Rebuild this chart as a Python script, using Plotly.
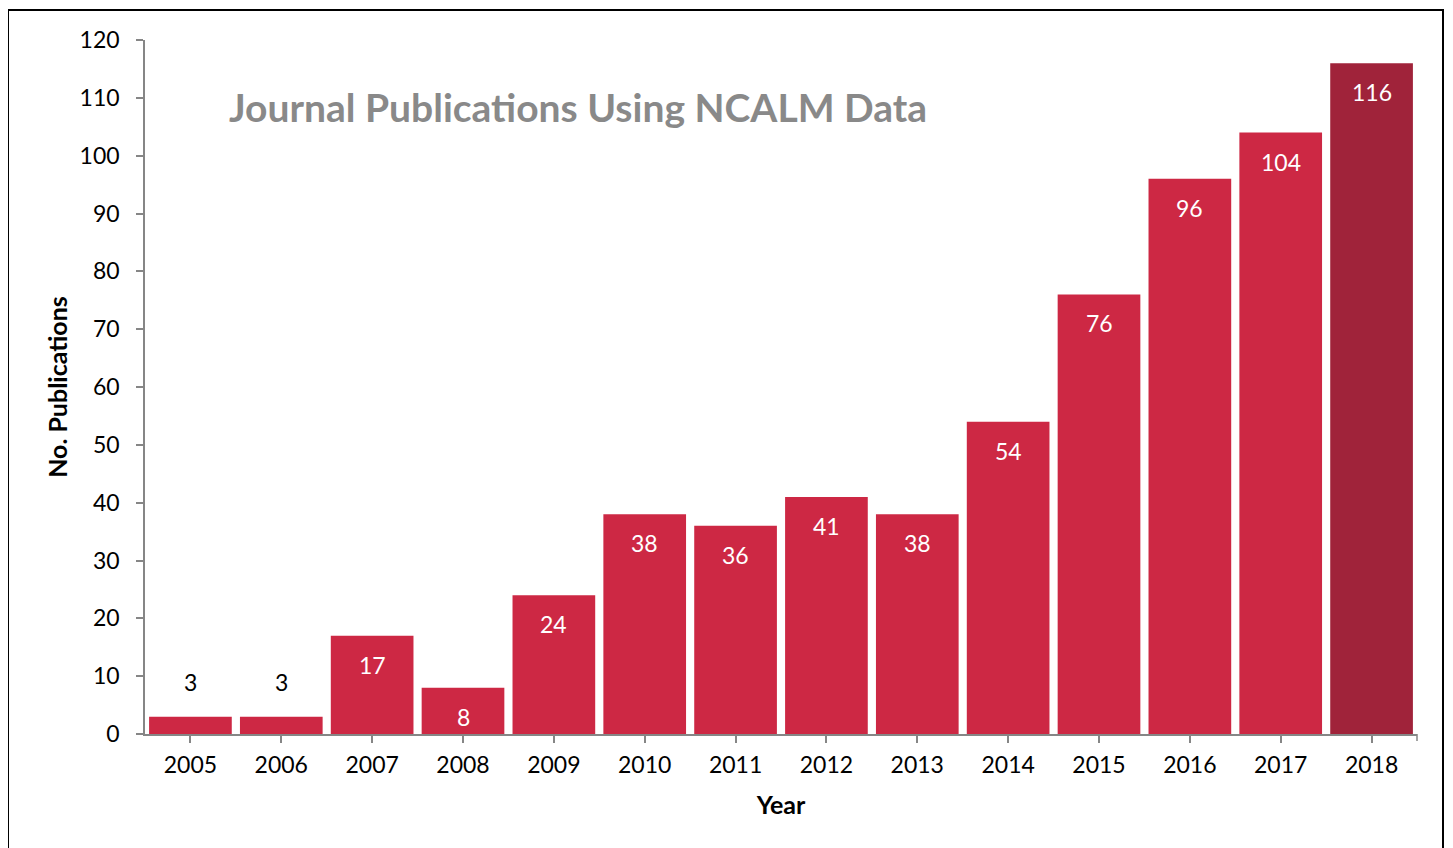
import plotly.graph_objects as go

years = ["2005", "2006", "2007", "2008", "2009", "2010", "2011", "2012", "2013",
         "2014", "2015", "2016", "2017", "2018"]
publications = [3, 3, 17, 8, 24, 38, 36, 41, 38, 54, 76, 96, 104, 116]
bar_colors = ["#CD2844"] * 13 + ["#A0233A"]
y_ticks = [0, 10, 20, 30, 40, 50, 60, 70, 80, 90, 100, 110, 120]

# page has an 8px body margin; figure sized to fit inside the window
OFF = 8
W, H = 1453 - OFF, 848 - OFF
ML, MR, MT, MB = 145 - OFF, 36, 40 - OFF, 114
FONT = "Lato"

pw = W - ML - MR
ph = H - MT - MB


def px_x(page_x):
    return (page_x - OFF - ML) / pw


def px_y(page_y):
    return (H - MB - (page_y - OFF)) / ph


fig = go.Figure()
fig.add_trace(go.Bar(
    x=years, y=publications,
    marker=dict(color=bar_colors, line=dict(width=0)),
    hoverinfo="x+y",
))

annotations = []
for i, (yr, v) in enumerate(zip(years, publications)):
    outside = v < 6
    annotations.append(dict(
        x=i, y=v, xref="x", yref="y", text=str(v), showarrow=False,
        yanchor="middle", xanchor="center",
        yshift=35 if outside else -29,
        font=dict(family=FONT, size=23, color="black" if outside else "white"),
    ))

annotations.append(dict(
    x=px_x(227), y=px_y(107),
    xref="paper", yref="paper", xanchor="left", yanchor="middle",
    text="<b>Journal Publications Using NCALM Data</b>", showarrow=False,
    font=dict(family=FONT, size=39, color="#898989"),
))

shapes = [
    dict(type="rect", xref="paper", yref="paper",
         x0=px_x(8), x1=px_x(1443),
         y0=px_y(900), y1=px_y(10),
         line=dict(color="black", width=2), fillcolor="rgba(0,0,0,0)", layer="below"),
    dict(type="line", xref="paper", yref="paper", x0=1, x1=1,
         y0=0, y1=-7 / ph, line=dict(color="#868686", width=1.5)),
]

fig.update_layout(
    width=W, height=H,
    margin=dict(l=ML, r=MR, t=MT, b=MB, pad=0),
    paper_bgcolor="white", plot_bgcolor="white",
    bargap=0.09,
    showlegend=False,
    font=dict(family=FONT, size=23, color="black"),
    annotations=annotations,
    shapes=shapes,
    xaxis=dict(
        type="category", range=[-0.5, len(years) - 0.5],
        showline=True, linecolor="#868686", linewidth=1.5,
        ticks="outside", ticklen=7, tickcolor="#868686", tickwidth=1.5,
        ticklabelstandoff=3,
        showgrid=False, tickfont=dict(family=FONT, size=23),
        title=dict(text="<b>Year</b>", font=dict(family=FONT, size=25), standoff=19),
    ),
    yaxis=dict(
        range=[0, 120], tickvals=y_ticks,
        showline=True, linecolor="#868686", linewidth=1.5,
        ticks="outside", ticklen=7, tickcolor="#868686", tickwidth=1.5,
        ticklabelstandoff=12,
        showgrid=False, zeroline=False, tickfont=dict(family=FONT, size=23),
        title=dict(text="<b>No. Publications</b>", font=dict(family=FONT, size=25), standoff=5),
    ),
)

fig.write_html("out.html")
